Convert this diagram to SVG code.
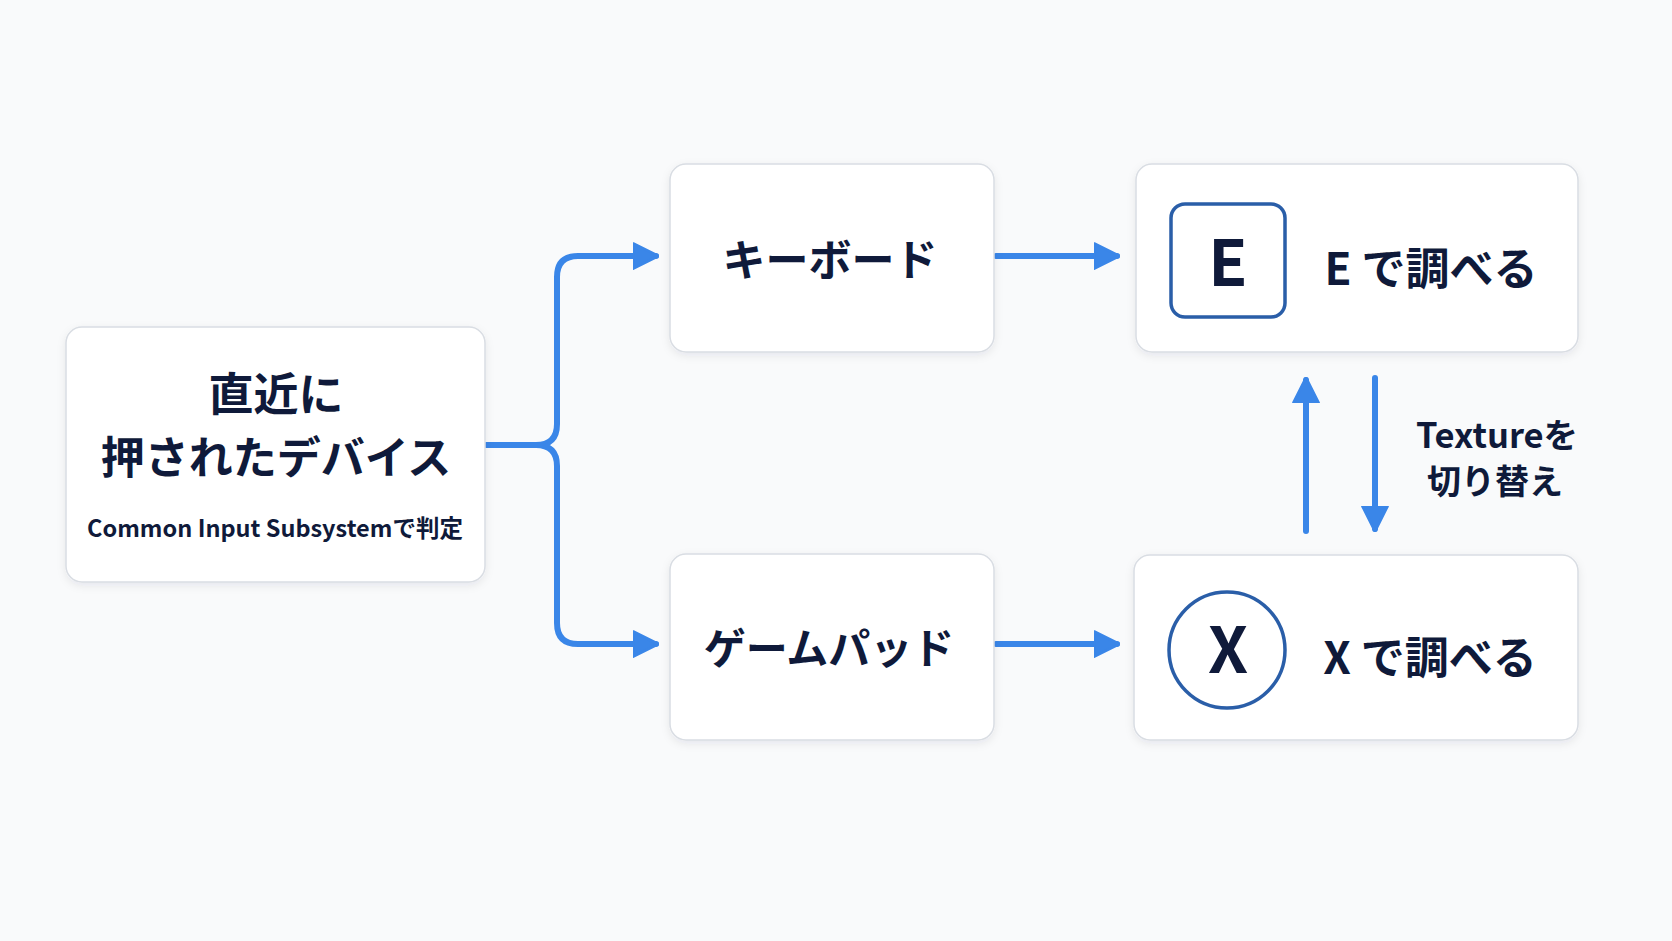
<svg xmlns="http://www.w3.org/2000/svg" width="1672" height="941" viewBox="0 0 1672 941">
<defs>
<style>
.box{fill:#ffffff;stroke:#d9dde3;stroke-width:1.5}
.t{font-family:"Noto Sans CJK JP","Noto Sans",sans-serif;font-weight:700;fill:#0f1a3a;text-anchor:middle}
.c{fill:none;stroke:#3a86e8;stroke-width:6;stroke-linecap:round;stroke-linejoin:round}
.key{fill:none;stroke:#2a5ea8;stroke-width:3.5}
</style>
<filter id="sh" x="-10%" y="-10%" width="120%" height="130%">
<feDropShadow dx="0" dy="3" stdDeviation="4" flood-color="#1a2a4a" flood-opacity="0.08"/>
</filter>
<marker id="ah" viewBox="0 0 10 10" refX="9" refY="5" markerWidth="4.2" markerHeight="5.6" orient="auto" markerUnits="strokeWidth">
<path d="M0,0 L10,5 L0,10 z" fill="#3a86e8" stroke="#3a86e8" stroke-width="1" stroke-linejoin="round"/>
</marker>
</defs>
<rect width="1672" height="941" fill="#f9fafb"/>

<g id="connectors">
<path class="c" d="M487 445 H536 Q557 445 557 424 V277 Q557 256 578 256 H656" marker-end="url(#ah)"/>
<path class="c" d="M487 445 H536 Q557 445 557 466 V623 Q557 644 578 644 H656" marker-end="url(#ah)"/>
<path class="c" d="M996 256 H1117" marker-end="url(#ah)"/>
<path class="c" d="M996 644 H1117" marker-end="url(#ah)"/>
<path class="c" d="M1306 531 V380" marker-end="url(#ah)"/>
<path class="c" d="M1375 378 V529" marker-end="url(#ah)"/>
</g>

<g id="node-device">
<rect class="box" filter="url(#sh)" x="66" y="327" width="419" height="255" rx="16"/>
<text class="t" x="276" y="411" font-size="45">直近に</text>
<text class="t" x="276" y="474" font-size="44">押されたデバイス</text>
<text class="t" x="275" y="537" font-size="23.5" font-weight="500">Common Input Subsystemで判定</text>
</g>

<g id="node-keyboard">
<rect class="box" filter="url(#sh)" x="670" y="164" width="324" height="188" rx="16"/>
<text class="t" x="830" y="276" font-size="43">キーボード</text>
</g>

<g id="node-gamepad">
<rect class="box" filter="url(#sh)" x="670" y="554" width="324" height="186" rx="16"/>
<text class="t" x="829" y="664" font-size="42">ゲームパッド</text>
</g>

<g id="node-e">
<rect class="box" filter="url(#sh)" x="1136" y="164" width="442" height="188" rx="16"/>
<rect class="key" x="1171" y="204" width="114" height="113" rx="14"/>
<text class="t" x="1228" y="286" font-size="64">E</text>
<text class="t" x="1431" y="285" font-size="44">E で調べる</text>
</g>

<g id="node-x">
<rect class="box" filter="url(#sh)" x="1134" y="555" width="444" height="185" rx="16"/>
<circle class="key" cx="1227" cy="650" r="58"/>
<text class="t" x="1228" y="673" font-size="64">X</text>
<text class="t" x="1430" y="674" font-size="44">X で調べる</text>
</g>

<g id="label-switch">
<text class="t" x="1497" y="448" font-size="34.5">Textureを</text>
<text class="t" x="1495" y="494" font-size="34">切り替え</text>
</g>
</svg>
